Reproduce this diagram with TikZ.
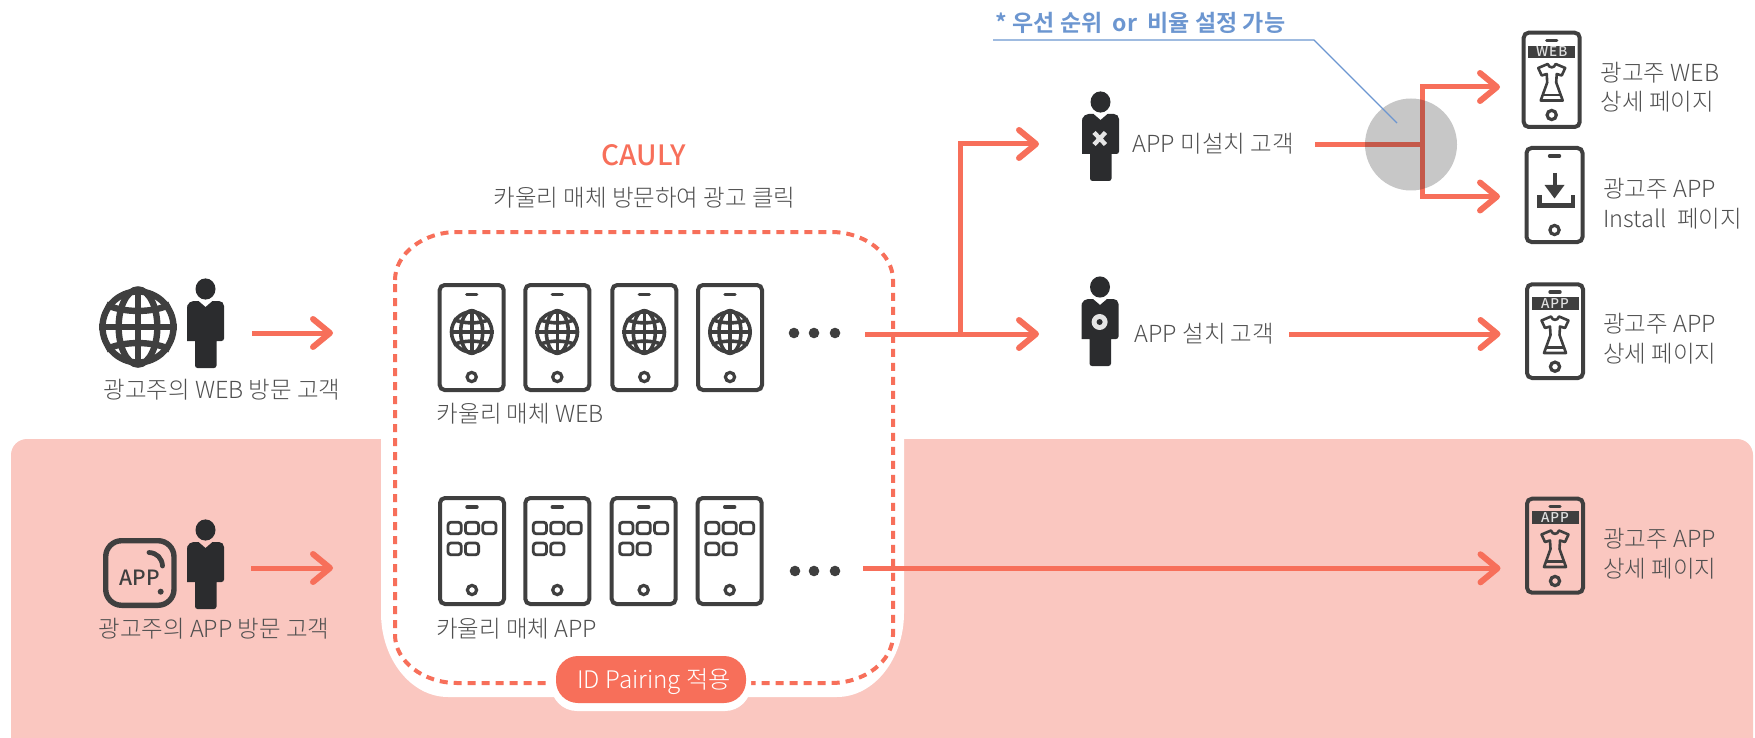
\documentclass[tikz,border=0pt]{standalone}
\usepackage{fontspec}
\usetikzlibrary{arrows.meta,calc}
\setmainfont{Noto Sans CJK KR Light}
\newfontfamily\krreg{Noto Sans CJK KR}
\newfontfamily\krmed{Noto Sans CJK KR Medium}
\newfontfamily\krbold{Noto Sans CJK KR Bold}
\newfontfamily\krband[LetterSpace=7]{Noto Sans CJK KR Medium}
\definecolor{coral}{HTML}{F76F5A}
\definecolor{coraldk}{HTML}{C4594A}
\definecolor{bandpink}{HTML}{FAC7C0}
\definecolor{icondark}{HTML}{3F3F3F}
\definecolor{persondark}{HTML}{2B2C2E}
\definecolor{labelgrey}{HTML}{4F4F4F}
\definecolor{noteblue}{HTML}{6C96D0}
\tikzset{
  x=1pt,y=-1pt,
  lbl/.style={inner sep=0pt,text=labelgrey,font=\fontsize{23.5}{24}\selectfont,text height=21pt,text depth=3pt},
  rlbl/.style={lbl,anchor=west},
  flow/.style={draw=coral,line width=5pt},
  flowdk/.style={draw=coraldk,line width=5pt},
  arrowed/.style={flow,-{Straight Barb[round,length=17pt,width=28pt,line width=6pt]}},
  phoneline/.style={draw=icondark,line width=4pt,rounded corners=5pt},
}
\newcommand{\phoneframe}[6]{% cx top bottom halfwidth speakerY buttonY
  \draw[phoneline] (#1-#4+2,#2+2) rectangle (#1+#4-2,#3-2);
  \draw[icondark,line width=3.4pt,line cap=round] (#1-5,#5) -- (#1+5,#5);
  \draw[icondark,line width=3.2pt] (#1,#6) circle[radius=4.6];
}
\newcommand{\globeicon}[4]{% cx cy r lw
  \begin{scope}[shift={(#1,#2)},scale=#3,draw=icondark,line width=#4pt]
    \draw (0,0) circle[radius=1-#4/#3/2];
    \draw (-1,0) -- (1,0) (0,-1) -- (0,1);
    \draw (0,0) ellipse[x radius=.5,y radius=.97];
    \draw (-.82,-.58) .. controls (-.4,-.36) and (.4,-.36) .. (.82,-.58);
    \draw (-.82,.58) .. controls (-.4,.36) and (.4,.36) .. (.82,.58);
  \end{scope}
}
\newcommand{\personicon}[2]{% head centre x y
  \begin{scope}[shift={(#1,#2)}]
    \fill[persondark] (0,0) ellipse[x radius=10,y radius=10.6];
    \fill[persondark,rounded corners=2.5pt] (-18.5,52) -- (-18.5,18) [rounded corners=5pt] -- (-17,12) [sharp corners] -- (-7,12) -- (0,18) -- (7,12) [rounded corners=5pt] -- (18.5,12) [rounded corners=2.5pt] -- (18.5,52) [sharp corners] -- (11,52) [rounded corners=2.5pt] -- (11,79) -- (-10.5,79) [sharp corners] -- (-10.5,52) -- cycle;
  \end{scope}
}
\newcommand{\appgrid}[2]{% cx top
  \begin{scope}[shift={(#1,#2)},draw=icondark,line width=2.8pt]
    \foreach \dx in {-25,-7.6,9.8}{\draw[rounded corners=3pt] (\dx+1,1.2) rectangle (\dx+14.2,12.8);}
    \foreach \dx in {-25,-7.6}{\draw[rounded corners=3pt] (\dx+1,22) rectangle (\dx+14.2,33.8);}
  \end{scope}
}
\newcommand{\dressicon}[2]{% cx top
  \begin{scope}[shift={(#1,#2)},draw=icondark,line width=2.6pt,line join=round]
    \draw (-4,1.5) .. controls (-2.5,6) and (2.5,6) .. (4,1.5) -- (13.5,5.5) -- (10,13) -- (5,11.5) -- (4.5,20) -- (11,38) -- (-11,38) -- (-4.5,20) -- (-5,11.5) -- (-10,13) -- (-13.5,5.5) -- cycle;
    \draw (-9.5,32.5) -- (9.5,32.5);
  \end{scope}
}
\newcommand{\bandlabel}[4]{% cx top bottom text  (band 47 wide)
  \fill[icondark] (#1-23.5,#2) rectangle (#1+23.5,#3);
  \node[inner sep=0pt,text=white!88!black,font=\krband\fontsize{13.5}{14}\selectfont] at (#1,{(#2+#3)/2}) {#4};
}
\begin{document}
\begin{tikzpicture}
\useasboundingbox (0,0) rectangle (1755,738);
\begin{scope}
\clip (0,0) rectangle (1755,738);
\fill[bandpink,rounded corners=16pt] (11,439) rectangle (1753,760);
\end{scope}
% white cut-out
\fill[white] (381,439) -- (381,613) .. controls (381,659) and (411,697) .. (448,697) -- (837,697) .. controls (874,697) and (904,659) .. (904,613) -- (904,439) -- cycle;
% dashed frame
\draw[coral,line width=4pt,dash pattern=on 8pt off 6pt] (395,280) .. controls (395,254) and (423,232) .. (457,232) -- (831,232) .. controls (865,232) and (893,254) .. (893,280) -- (893,635) .. controls (893,661) and (865,683) .. (831,683) -- (457,683) .. controls (423,683) and (395,661) .. (395,635) -- cycle;
% pill
\fill[white,rounded corners=26pt] (551,651) rectangle (751,711);
\node[fill=coral,rounded corners=22pt,minimum width=190pt,minimum height=47pt,inner sep=0pt,text=white,font=\fontsize{24.2}{24}\selectfont,text height=21pt,text depth=3pt] (pairing) at (651,679.5) {\hspace*{6pt}ID Pairing 적용};
% gray circle
\fill[black!22] (1411,144.5) circle[radius=46];
% coordinates
\coordinate (webArrowA) at (252,333);
\coordinate (webArrowB) at (333,333);
\coordinate (appArrowA) at (251,568);
\coordinate (appArrowB) at (333,568);
\coordinate (mediaWebOut) at (865,334);
\coordinate (branchL) at (960,334);
\coordinate (notInstalledIn) at (1039,144);
\coordinate (installedIn) at (1039,334);
\coordinate (notInstalledOut) at (1315,144.5);
\coordinate (branchR) at (1422.5,144.5);
\coordinate (webPage) at (1500,87);
\coordinate (installPage) at (1500,196.5);
\coordinate (installedOut) at (1289,334);
\coordinate (appPage1) at (1500.5,334);
\coordinate (mediaAppOut) at (863,568.3);
\coordinate (appPage2) at (1500.5,568.3);
% connectors
\draw[arrowed] (webArrowA) -- (webArrowB);
\draw[arrowed] (appArrowA) -- (appArrowB);
\draw[flow] (mediaWebOut) -- (branchL);
\draw[arrowed] (branchL) |- (notInstalledIn);
\draw[arrowed] (branchL) -- (installedIn);
\draw[flow] (notInstalledOut) -- (branchR);
\draw[arrowed] (branchR) |- (webPage);
\draw[arrowed] (branchR) |- (installPage);
\begin{scope}
  \clip (1411,144.5) circle[radius=46];
  \draw[flowdk] (notInstalledOut) -- (branchR);
  \draw[flowdk] (branchR |- webPage) -- (branchR |- installPage);
\end{scope}
\draw[arrowed] (installedOut) -- (appPage1);
\draw[arrowed] (mediaAppOut) -- (appPage2);
% note
\node[inner sep=0pt,anchor=west,text=noteblue,font=\krbold\fontsize{23}{23}\selectfont] (note) at (995.5,23) {* 우선 순위\ \ or\ \ 비율 설정 가능};
\coordinate (noteL) at (993,40);
\coordinate (noteM) at (1314,40);
\coordinate (noteE) at (1397,123);
\draw[noteblue,line width=1.1pt] (noteL) -- (noteM) -- (noteE);
% visitors
\globeicon{138}{327}{38.7}{6.4}
\personicon{205.5}{289}
\node[lbl] (webVisitor) at (222,389) {광고주의 WEB 방문 고객};
\draw[icondark,line width=5.4pt,rounded corners=16pt] (105.7,540.7) rectangle (174,605.3);
\draw[icondark,line width=4.8pt,line cap=round] (149,552.5) .. controls (157,553) and (162,558) .. (162.5,566);
\fill[icondark] (160.7,591.7) circle[radius=3];
\node[inner sep=0pt,text=icondark,font=\krmed\fontsize{21}{21}\selectfont] (appWord) at (140,578) {APP};
\personicon{205.5}{530}
\node[lbl] (appVisitor) at (214,628) {광고주의 APP 방문 고객};
% CAULY
\node[inner sep=0pt,text=coral,font=\krmed\fontsize{28}{28}\selectfont] (cauly) at (644,155) {CAULY};
\node[lbl] (caulySub) at (644.5,197) {카울리 매체 방문하여 광고 클릭};
% web phones
\foreach \c in {471.7,557.3,644.3,730}{
  \phoneframe{\c}{283}{392}{34}{294.5}{377}
  \globeicon{\c}{332}{22}{3.6}
}
\foreach \c in {794,814,835}{\fill[icondark] (\c,333) circle[radius=5.3];}
\node[rlbl] (webMedia) at (436.7,413) {카울리 매체 WEB};
% app phones
\foreach \c in {472,557.3,643.7,729.7}{
  \phoneframe{\c}{496}{606}{34}{507}{590}
  \appgrid{\c}{521}
}
\foreach \c in {795,814,835}{\fill[icondark] (\c,571) circle[radius=5.3];}
\node[rlbl] (appMedia) at (436,628) {카울리 매체 APP};
% middle persons
\personicon{1100.5}{102}
\draw[white!90!black,line width=4.4pt] (1094,132.5) -- (1105.5,144.5) (1105.5,132.5) -- (1094,144.5);
\node[rlbl] (notInstalled) at (1132.4,144) {APP 미설치 고객};
\personicon{1100}{287}
\fill[white!90!black] (1099.6,322) circle[radius=8];
\fill[persondark] (1099.6,322) circle[radius=3];
\node[rlbl] (installed) at (1134.4,333) {APP 설치 고객};
% right phones
\phoneframe{1551.7}{30.7}{129}{30}{40.7}{115}
\bandlabel{1551.7}{46}{57.7}{WEB}
\dressicon{1551.7}{62.5}
\node[rlbl] at (1600.5,72.7) {광고주 WEB};
\node[rlbl] at (1600.5,101.7) {상세 페이지};
\phoneframe{1554.5}{146}{244}{30}{156}{230}
\draw[icondark,line width=4pt] (1554.5,173) -- (1554.5,188);
\fill[icondark] (1544.5,185) -- (1564.5,185) -- (1554.5,198.5) -- cycle;
\draw[icondark,line width=4.2pt] (1539.5,195) -- (1539.5,205.5) -- (1573,205.5) -- (1573,195);
\node[rlbl] at (1603,188) {광고주 APP};
\node[rlbl] at (1603,218) {Install\ \ 페이지};
\phoneframe{1555}{282.3}{380}{30}{292}{366.7}
\bandlabel{1555}{296.7}{310}{APP}
\dressicon{1555}{315}
\node[rlbl] at (1603,323) {광고주 APP};
\node[rlbl] at (1603,353) {상세 페이지};
\phoneframe{1555}{496.7}{594.7}{30}{506.7}{581}
\bandlabel{1555}{511}{524}{APP}
\dressicon{1555}{529}
\node[rlbl] at (1603,538.7) {광고주 APP};
\node[rlbl] at (1603,568.3) {상세 페이지};
\end{tikzpicture}
\end{document}
